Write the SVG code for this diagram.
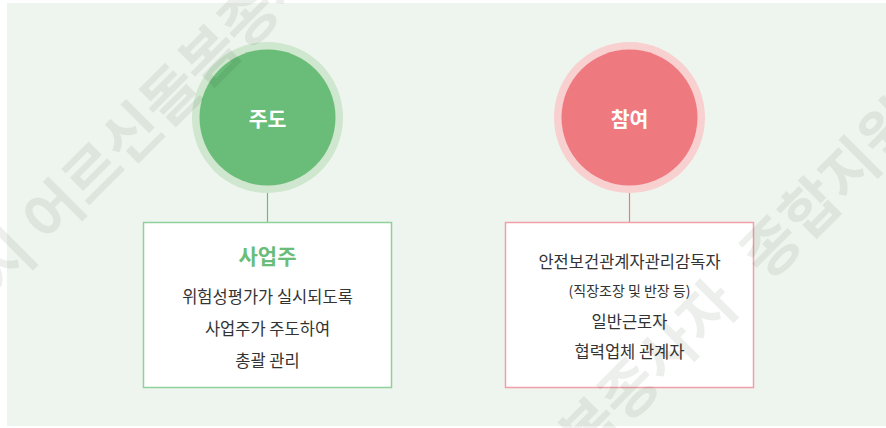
<svg xmlns="http://www.w3.org/2000/svg" width="886" height="428" viewBox="0 0 886 428">
<style>
.t{font-family:"Noto Sans CJK KR","Noto Sans",sans-serif;text-anchor:middle}
.body{font-size:16.5px;fill:#333333}
.small{font-size:14px;fill:#333333}
.head{font-size:21px;font-weight:700}
.ctext{font-size:20.5px;font-weight:700;fill:#ffffff}
.wm{font-family:"Noto Sans CJK KR",sans-serif;font-size:60px;font-weight:700;fill:#142814;fill-opacity:0.075}
</style>
<rect x="0" y="0" width="886" height="428" fill="#ffffff"/>
<rect x="7" y="3" width="879" height="423" fill="#eef5ee"/>
<g id="connectors">
<line x1="267.5" y1="190" x2="267.5" y2="222" stroke="#6abd78" stroke-width="1.2"/>
<line x1="629.5" y1="190" x2="629.5" y2="222" stroke="#ee7a80" stroke-width="1.2"/>
</g>
<g id="node-judo">
<circle cx="267.5" cy="117.5" r="75.5" fill="#cfe6cf"/>
<circle cx="267.5" cy="117.5" r="68" fill="#6abd78"/>
<text class="t ctext" x="267.5" y="127">주도</text>
</g>
<g id="node-chamyeo">
<circle cx="629.5" cy="117.5" r="75.5" fill="#f8d0d0"/>
<circle cx="629.5" cy="117.5" r="68" fill="#ee7a80"/>
<text class="t ctext" x="629.5" y="127">참여</text>
</g>
<g id="node-employer">
<rect x="143.5" y="222.5" width="248" height="165" fill="#ffffff" stroke="#8fd19c" stroke-width="1.5"/>
<text class="t head" x="267.5" y="264" fill="#6abd78">사업주</text>
<text class="t body" x="267.5" y="303">위험성평가가 실시되도록</text>
<text class="t body" x="267.5" y="335">사업주가 주도하여</text>
<text class="t body" x="267.5" y="367">총괄 관리</text>
</g>
<g id="node-participants">
<rect x="505.5" y="222.5" width="248" height="165" fill="#ffffff" stroke="#f2a0a8" stroke-width="1.5"/>
<text class="t body" x="629.5" y="268">안전보건관계자관리감독자</text>
<text class="t small" x="629.5" y="296">(직장조장 및 반장 등)</text>
<text class="t body" x="629.5" y="328">일반근로자</text>
<text class="t body" x="629.5" y="358">협력업체 관계자</text>
</g>
<g id="watermark">
<text class="wm" transform="translate(59.3,236.8) rotate(-45)" x="-193.4" y="0">서울시 어르신돌봄종사자 종합지원센터</text>
<text class="wm" transform="translate(439.7,609.4) rotate(-45)" x="-193.4" y="0">서울시 어르신돌봄종사자 <tspan dx="22">종합지원센터</tspan></text>
</g>
</svg>
